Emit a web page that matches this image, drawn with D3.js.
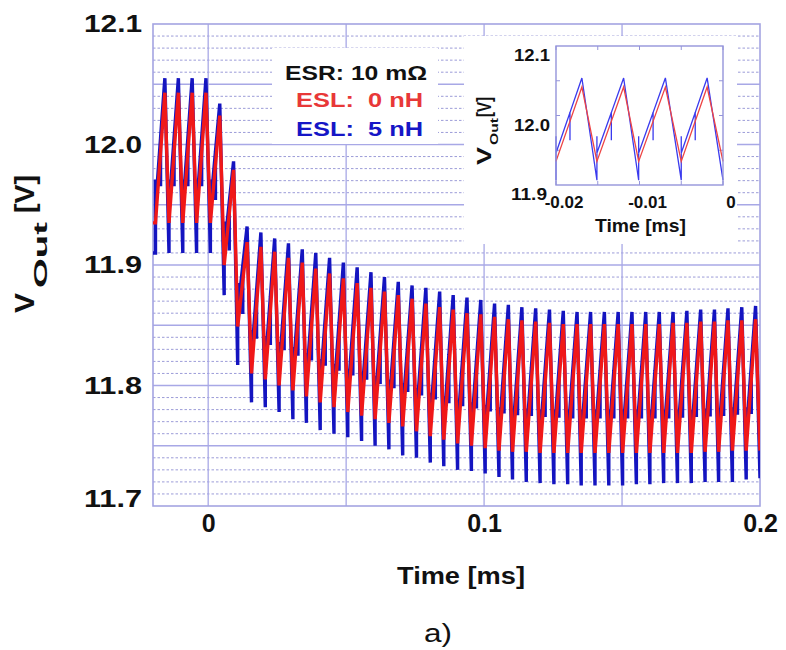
<!DOCTYPE html>
<html>
<head>
<meta charset="utf-8">
<title>V_Out transient</title>
<script src="https://d3js.org/d3.v7.min.js"></script>
<style>
body { margin: 0; background: #fff; }
text { font-family: 'Liberation Sans', Arial, sans-serif; font-weight: bold; white-space: pre; }
</style>
</head>
<body>
<svg id="chart" width="786" height="650"></svg>
<script>
// ---- main chart data (ms, V) ----
// peak time of every switching cycle, k = -3 .. 40
const peakTimes = [-0.0157, -0.0108, -0.0058, -0.0008, 0.0042, 0.0092, 0.0141, 0.0191, 0.0241, 0.0291,
  0.0341, 0.0390, 0.0440, 0.0490, 0.0540, 0.0590, 0.0639, 0.0689, 0.0739, 0.0789,
  0.0839, 0.0888, 0.0938, 0.0988, 0.1038, 0.1088, 0.1137, 0.1187, 0.1237, 0.1287,
  0.1337, 0.1386, 0.1436, 0.1486, 0.1536, 0.1586, 0.1635, 0.1685, 0.1735, 0.1785,
  0.1835, 0.1884, 0.1934, 0.1984];
const riseTime = 0.0034;   // trough -> peak
const endTime = 0.2;

// ESL 0 nH
const redPeaks = [12.043, 12.043, 12.043, 12.043, 12.024, 11.979, 11.919, 11.915, 11.911, 11.906,
  11.902, 11.897, 11.893, 11.889, 11.885, 11.881, 11.878, 11.875, 11.872, 11.868,
  11.865, 11.863, 11.860, 11.859, 11.857, 11.855, 11.854, 11.853, 11.852, 11.851,
  11.851, 11.851, 11.851, 11.851, 11.851, 11.851, 11.851, 11.852, 11.852, 11.853,
  11.853, 11.854, 11.854, 11.855];
// trough before each peak, plus the last one
const redTroughs = [11.935, 11.935, 11.935, 11.935, 11.935, 11.900, 11.849, 11.810, 11.805, 11.800,
  11.796, 11.791, 11.786, 11.782, 11.778, 11.775, 11.772, 11.769, 11.766, 11.762,
  11.758, 11.755, 11.752, 11.750, 11.748, 11.746, 11.745, 11.745, 11.744, 11.744,
  11.744, 11.744, 11.744, 11.744, 11.744, 11.744, 11.744, 11.744, 11.744, 11.744,
  11.745, 11.745, 11.746, 11.746, 11.746];

// ESL 5 nH
const bluePeaks = [12.055, 12.055, 12.055, 12.055, 12.034, 11.986, 11.932, 11.927, 11.922, 11.918,
  11.913, 11.910, 11.906, 11.902, 11.898, 11.894, 11.890, 11.886, 11.883, 11.881,
  11.878, 11.875, 11.873, 11.871, 11.868, 11.867, 11.865, 11.864, 11.863, 11.862,
  11.861, 11.861, 11.861, 11.861, 11.861, 11.861, 11.861, 11.861, 11.862, 11.863,
  11.863, 11.864, 11.865, 11.866];
const blueTroughs = [11.910, 11.910, 11.910, 11.910, 11.910, 11.875, 11.817, 11.786, 11.782, 11.778,
  11.772, 11.769, 11.763, 11.760, 11.757, 11.754, 11.750, 11.747, 11.742, 11.740,
  11.736, 11.733, 11.730, 11.729, 11.727, 11.724, 11.722, 11.720, 11.719, 11.718,
  11.718, 11.717, 11.717, 11.717, 11.717, 11.718, 11.718, 11.719, 11.719, 11.719,
  11.720, 11.720, 11.720, 11.722, 11.723];

// ESL ringing seen on the 5 nH trace
const eslStep = 0.012;   // rise starts this far above the 0 nH trough
const eslKick = 0.024;   // short overshoot at the switching edge
const midFrac = 0.54;    // where in the rise the dip happens
const midDip = 0.04;

// ---- inset data ----
const insetTroughTimes = [-0.0200, -0.0151, -0.0101, -0.0050, 0.0];
const insetPeakTimes = [-0.0169, -0.0119, -0.0069, -0.0019];
const insetRedPeaks = [12.041, 12.041, 12.041, 12.041];
const insetRedTroughs = [11.934, 11.934, 11.934, 11.934, 11.934];
const insetBluePeaks = [12.054, 12.054, 12.054, 12.054];
const insetBlueTroughs = [11.907, 11.907, 11.907, 11.907, 11.907];

const xTicks = [0, 0.1, 0.2];
const yTicks = [11.7, 11.8, 11.9, 12.0, 12.1];
const insetXTicks = [-0.02, -0.01, 0];
const insetYTicks = [11.9, 12.0, 12.1];

const svg = d3.select('#chart');
const plot = {left: 153, right: 760, top: 24, bottom: 506};
const x = d3.scaleLinear().domain([-0.02, 0.2]).range([plot.left, plot.right]);
const y = d3.scaleLinear().domain([11.7, 12.1]).range([plot.bottom, plot.top]);

const gridSolid = '#a8a8e6';
const gridDot = '#9c9cd8';
const redCol = '#f01818';
const blueCol = '#1414c0';

function label(g, str, o) {
  let t = g.append('text')
    .attr('transform', `translate(${o.x},${o.y})` + (o.rotate ? ' rotate(-90)' : ''))
    .attr('font-size', o.size)
    .attr('text-anchor', o.anchor || 'start')
    .attr('fill', o.color || '#111')
    .text(str);
  if (o.len) t.attr('textLength', o.len).attr('lengthAdjust', 'spacingAndGlyphs');
  if (o.weight) t.style('font-weight', o.weight);
  return t;
}

function redPath(peaksT, troughsT, peaks, troughs) {
  let pts = [];
  peaksT.forEach((tp, i) => {
    pts.push([troughsT[i], troughs[i]]);
    pts.push([tp, peaks[i]]);
  });
  pts.push([troughsT[peaksT.length], troughs[peaksT.length]]);
  return pts;
}

function bluePath(peaksT, troughsT, peaks, troughs, refTroughs) {
  let pts = [];
  peaksT.forEach((tp, i) => {
    let tt = troughsT[i];
    let rs = refTroughs[i] + eslStep;
    pts.push([tt, troughs[i]], [tt, rs + eslKick], [tt, rs]);
    let tm = tt + midFrac * (tp - tt);
    let vm = rs + midFrac * (peaks[i] - rs);
    pts.push([tm, vm], [tm, vm - midDip], [tm, vm]);
    pts.push([tp, peaks[i]]);
  });
  let n = peaksT.length;
  pts.push([troughsT[n], troughs[n]]);
  return pts;
}

// trough times for the main chart
let troughTimes = peakTimes.map(t => t - riseTime);
troughTimes.push(endTime);

drawGrid();
drawLegend();
drawData();
drawAxes();
drawInset();

function drawGrid() {
  let g = svg.append('g');
  let fine = y.ticks(40).filter(v => Math.abs(v * 20 - Math.round(v * 20)) > 1e-6);
  let major = y.ticks(8).filter(v => v > 11.7 && v < 12.1);
  g.selectAll('.hdot').data(fine).enter().append('line')
    .attr('x1', plot.left).attr('x2', plot.right)
    .attr('y1', d => y(d)).attr('y2', d => y(d))
    .style('stroke', gridDot).style('stroke-width', 1).style('stroke-dasharray', '2.5,2');
  g.selectAll('.hsol').data(major).enter().append('line')
    .attr('x1', plot.left).attr('x2', plot.right)
    .attr('y1', d => y(d)).attr('y2', d => y(d))
    .style('stroke', gridSolid).style('stroke-width', 1.3);
  g.selectAll('.vsol').data([0, 0.05, 0.1, 0.15]).enter().append('line')
    .attr('x1', d => x(d)).attr('x2', d => x(d))
    .attr('y1', plot.top).attr('y2', plot.bottom)
    .style('stroke', gridSolid).style('stroke-width', 1.3);
  svg.append('rect')
    .attr('x', plot.left).attr('y', plot.top)
    .attr('width', plot.right - plot.left).attr('height', plot.bottom - plot.top)
    .style('fill', 'none').style('stroke', '#a4a4e2').style('stroke-width', 1.6);
}

function drawLegend() {
  svg.append('rect').attr('x', 272).attr('y', 48).attr('width', 166).attr('height', 96)
    .style('fill', '#fff');
  label(svg, 'ESR: 10 m\u03A9', {x: 285, y: 80, size: 21, len: 142});
  label(svg, 'ESL:  0 nH', {x: 296, y: 107, size: 21, len: 127, color: '#e83838'});
  label(svg, 'ESL:  5 nH', {x: 296, y: 136, size: 21, len: 127, color: '#1616c6'});
}

function drawData() {
  svg.append('clipPath').attr('id', 'clip').append('rect')
    .attr('x', plot.left).attr('y', plot.top)
    .attr('width', plot.right - plot.left).attr('height', plot.bottom - plot.top);
  let line = d3.line().x(d => x(d[0])).y(d => y(d[1]));
  let g = svg.append('g').attr('clip-path', 'url(#clip)');

  let blue = bluePath(peakTimes, troughTimes, bluePeaks, blueTroughs, redTroughs);
  blue.unshift([-0.02, blueTroughs[0]]);
  let red = redPath(peakTimes, troughTimes, redPeaks, redTroughs);
  red.unshift([-0.02, redTroughs[0]]);

  g.append('path').attr('d', line(blue))
    .style('fill', 'none').style('stroke', blueCol).style('stroke-width', 3.4);
  g.append('path').attr('d', line(red))
    .style('fill', 'none').style('stroke', redCol).style('stroke-width', 3.4);
}

function drawAxes() {
  let ya = svg.append('g').attr('transform', `translate(${plot.left},0)`)
    .call(d3.axisLeft(y).tickValues(yTicks).tickFormat(d3.format('.1f')).tickSize(0).tickPadding(11));
  ya.select('.domain').remove();
  ya.attr('font-size', null).attr('font-family', null);
  ya.selectAll('text').attr('font-size', 24).attr('fill', '#111')
    .attr('textLength', 58).attr('lengthAdjust', 'spacingAndGlyphs')
    .attr('y', d => d === 11.7 ? -7 : 0);

  let xa = svg.append('g').attr('transform', `translate(0,${plot.bottom})`)
    .call(d3.axisBottom(x).tickValues(xTicks).tickFormat(d => d === 0 ? '0' : d3.format('.1f')(d)).tickSize(0).tickPadding(8));
  xa.select('.domain').remove();
  xa.attr('font-size', null).attr('font-family', null);
  xa.selectAll('text').attr('font-size', 25).attr('fill', '#111');

  label(svg, 'Time [ms]', {x: 397, y: 584, size: 23, len: 128});
  label(svg, 'a)', {x: 424, y: 642, size: 26, len: 28, weight: 'normal'});

  // V_Out [V]
  label(svg, 'V', {x: 34, y: 313, size: 28, len: 20, rotate: true});
  label(svg, 'Out', {x: 47, y: 288, size: 18, len: 66, rotate: true});
  label(svg, '[V]', {x: 34, y: 213, size: 28, len: 38, rotate: true});
}

function drawInset() {
  svg.append('rect').attr('x', 464).attr('y', 36).attr('width', 273).attr('height', 208)
    .style('fill', '#fff');
  let ix = d3.scaleLinear().domain([-0.02, 0]).range([556, 723]);
  let iy = d3.scaleLinear().domain([11.9, 12.1]).range([185, 46]);
  let g = svg.append('g');
  let frameCol = '#9494da';

  // inward ticks
  let tx = d3.range(-0.02, 0.0001, 0.005);
  let ty = [11.95, 12.0, 12.05];
  tx.forEach(t => {
    g.append('line').attr('x1', ix(t)).attr('x2', ix(t)).attr('y1', iy.range()[1]).attr('y2', iy.range()[1] + 4)
      .style('stroke', frameCol);
    g.append('line').attr('x1', ix(t)).attr('x2', ix(t)).attr('y1', iy.range()[0]).attr('y2', iy.range()[0] - 4)
      .style('stroke', frameCol);
  });
  ty.forEach(v => {
    g.append('line').attr('x1', 556).attr('x2', 560).attr('y1', iy(v)).attr('y2', iy(v)).style('stroke', frameCol);
    g.append('line').attr('x1', 723).attr('x2', 719).attr('y1', iy(v)).attr('y2', iy(v)).style('stroke', frameCol);
  });

  let line = d3.line().x(d => ix(d[0])).y(d => iy(d[1]));
  let blue = bluePath(insetPeakTimes, insetTroughTimes, insetBluePeaks, insetBlueTroughs, insetRedTroughs);
  let red = redPath(insetPeakTimes, insetTroughTimes, insetRedPeaks, insetRedTroughs);
  g.append('path').attr('d', line(blue))
    .style('fill', 'none').style('stroke', '#3a3aee').style('stroke-width', 1.3);
  g.append('path').attr('d', line(red))
    .style('fill', 'none').style('stroke', '#ee4444').style('stroke-width', 1.3);

  g.append('rect').attr('x', 556).attr('y', 46).attr('width', 167).attr('height', 139)
    .style('fill', 'none').style('stroke', frameCol).style('stroke-width', 1.4);

  insetYTicks.forEach(v => {
    label(g, d3.format('.1f')(v), {x: v === 11.9 ? 547 : 550, y: iy(v) + 15, size: 16, len: 36, anchor: 'end'});
  });
  insetXTicks.forEach(v => {
    let s = v === 0 ? '0' : d3.format('.2f')(v).replace('\u2212', '-');
    label(g, s, {x: ix(v) + 8, y: 208, size: 17, anchor: 'middle'});
  });
  label(g, 'Time [ms]', {x: 595, y: 232, size: 19, len: 91});
  label(g, 'V', {x: 491, y: 165, size: 21, len: 18, rotate: true});
  label(g, 'Out', {x: 498, y: 145, size: 11, len: 27, rotate: true});
  label(g, '[V]', {x: 491, y: 117, size: 21, len: 20, rotate: true});
}
</script>
</body>
</html>
